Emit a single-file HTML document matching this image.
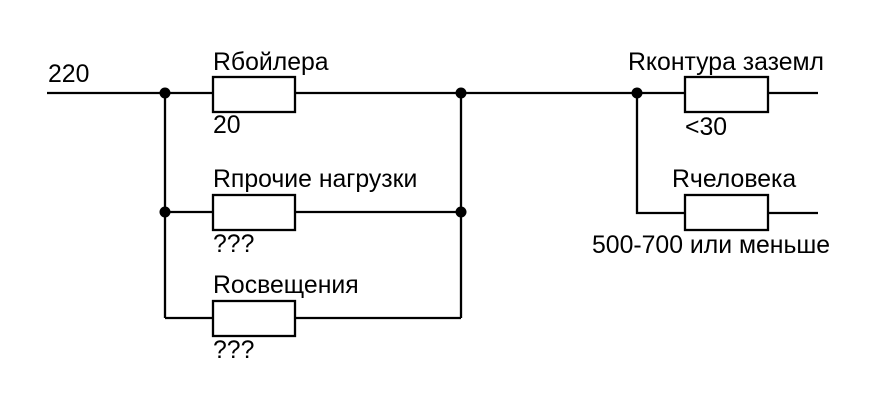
<!DOCTYPE html>
<html><head><meta charset="utf-8"><style>
html,body{margin:0;padding:0;background:#fff;}
svg text{font-family:"Liberation Sans",Arial,sans-serif;font-size:24.8px;fill:#000;}
</style></head><body>
<svg width="879" height="412" viewBox="0 0 879 412" xmlns="http://www.w3.org/2000/svg">
<g stroke="#000" stroke-width="2.3" fill="none">
<line x1="47" y1="93" x2="213" y2="93"/>
<line x1="295" y1="93" x2="685" y2="93"/>
<line x1="768" y1="93" x2="818" y2="93"/>
<line x1="165" y1="93" x2="165" y2="318"/>
<line x1="461" y1="93" x2="461" y2="318"/>
<line x1="165" y1="212" x2="213" y2="212"/>
<line x1="295" y1="212" x2="461" y2="212"/>
<line x1="165" y1="318" x2="213" y2="318"/>
<line x1="295" y1="318" x2="461" y2="318"/>
<polyline points="637,93 637,213 685,213"/>
<line x1="768" y1="213" x2="818" y2="213"/>
<rect x="213" y="77" width="82" height="35"/>
<rect x="213" y="195" width="82" height="35"/>
<rect x="213" y="301" width="82" height="35"/>
<rect x="685" y="77" width="83" height="35"/>
<rect x="685" y="195" width="83" height="35"/>
</g>
<g fill="#000">
<circle cx="165" cy="93" r="5.5"/><circle cx="461" cy="93" r="5.5"/>
<circle cx="165" cy="212" r="5.5"/><circle cx="461" cy="212" r="5.5"/>
<circle cx="637" cy="93" r="5.5"/>
</g>
<text x="48" y="82">220</text>
<text x="213" y="70">Rбойлера</text>
<text x="213" y="133">20</text>
<text x="213" y="187">Rпрочие нагрузки</text>
<text x="213" y="252">???</text>
<text x="213" y="293">Rосвещения</text>
<text x="213" y="358">???</text>
<text x="628" y="70">Rконтура заземл</text>
<text x="685" y="135">&lt;30</text>
<text x="672" y="187">Rчеловека</text>
<text x="592" y="253">500-700 или меньше</text>
</svg>
</body></html>
